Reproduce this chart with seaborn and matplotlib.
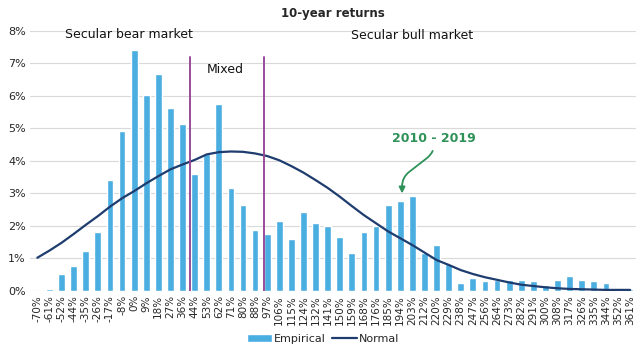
import numpy as np
import pandas as pd
import seaborn as sns
import matplotlib.pyplot as plt

# 10-year return buckets (x axis categories)
buckets = ["-70%", "-61%", "-52%", "-44%", "-35%", "-26%", "-17%", "-8%", "0%", "9%",
           "18%", "27%", "36%", "44%", "53%", "62%", "71%", "80%", "88%", "97%",
           "106%", "115%", "124%", "132%", "141%", "150%", "159%", "168%", "176%", "185%",
           "194%", "203%", "212%", "220%", "229%", "238%", "247%", "256%", "264%", "273%",
           "282%", "291%", "300%", "308%", "317%", "326%", "335%", "344%", "352%", "361%"]

# empirical frequency (%)
empirical = [0.0, 0.07, 0.52, 0.77, 1.24, 1.80, 3.40, 4.91, 7.42, 6.04,
             6.69, 5.62, 5.15, 3.60, 4.21, 5.74, 3.16, 2.64, 1.86, 1.74,
             2.14, 1.61, 2.44, 2.08, 2.01, 1.67, 1.18, 1.80, 2.01, 2.64,
             2.76, 2.92, 1.16, 1.42, 0.82, 0.25, 0.41, 0.31, 0.35, 0.33,
             0.34, 0.31, 0.18, 0.34, 0.46, 0.34, 0.31, 0.25, 0.0, 0.06]

# fitted normal curve (%)
normal = [1.02, 1.24, 1.48, 1.75, 2.03, 2.30, 2.59, 2.85, 3.07, 3.31,
          3.53, 3.74, 3.89, 4.03, 4.20, 4.27, 4.29, 4.28, 4.23, 4.15,
          4.02, 3.84, 3.64, 3.41, 3.17, 2.90, 2.61, 2.33, 2.08, 1.83,
          1.62, 1.41, 1.18, 0.95, 0.80, 0.64, 0.52, 0.42, 0.34, 0.26,
          0.19, 0.15, 0.11, 0.08, 0.06, 0.05, 0.04, 0.03, 0.03, 0.03]

# regime boundaries (category positions) and labels
boundaries = [12.6, 18.7]
regions = [("Secular bear market", 7.6, 7.88), ("Mixed", 15.5, 6.8), ("Secular bull market", 31.0, 7.85)]

df = pd.DataFrame({"bucket": buckets, "Empirical": empirical, "Normal": normal})
df["pos"] = np.arange(len(df))

sns.set_style("white")
plt.rcParams["font.family"] = ["DejaVu Sans"]

fig = plt.figure(figsize=(6.4, 3.6), dpi=100)
ax = fig.add_axes([0.047, 0.192, 0.947, 0.722])

sns.barplot(data=df, x="pos", y="Empirical", color="#4BAEE1", width=0.56,
            saturation=1, label="Empirical", ax=ax)
sns.lineplot(data=df, x="pos", y="Normal", color="#1E3C6E", linewidth=1.6,
             label="Normal", ax=ax)

# purple regime lines
for b in boundaries:
    ax.plot([b, b], [-0.05, 7.2], color="#9A4B98", linewidth=1.4)

for text, x, y in regions:
    ax.text(x, y, text, fontsize=9, ha="center", va="center", color="#111111")

# highlight of the last decade
ax.annotate("2010 - 2019", xy=(30.15, 3.0), xytext=(32.8, 4.69),
            fontsize=9, fontweight="bold", color="#2E9158", ha="center", va="center",
            arrowprops=dict(arrowstyle="-|>", color="#2E9158", lw=1.3, shrinkA=2, shrinkB=0,
                            connectionstyle="arc,angleA=-90,angleB=90,armA=14,armB=16,rad=9"))

ax.set_xlim(-0.6, 49.5)
ax.set_ylim(0, 8)
ax.set_yticks(range(0, 9))
ax.set_yticklabels([f"{v}%" for v in range(0, 9)], fontsize=8)
ax.set_xticks(df["pos"])
ax.set_xticklabels(buckets, rotation=90, fontsize=7.5)
ax.tick_params(axis="both", length=0, pad=3)
ax.set_xlabel("")
ax.set_ylabel("")
ax.grid(axis="y", color="#D9D9D9", linewidth=0.8)
ax.set_axisbelow(True)
sns.despine(ax=ax, left=True, bottom=True)

ax.set_title("10-year returns", fontsize=8.5, fontweight="bold", pad=10, x=0.5)

# legend below the axis: Empirical first, then Normal
handles, labels = ax.get_legend_handles_labels()
order = [labels.index("Empirical"), labels.index("Normal")]
ax.get_legend().remove()
fig.legend([handles[i] for i in order], [labels[i] for i in order], loc="center",
           bbox_to_anchor=(0.505, 0.058), ncol=2, frameon=False, fontsize=8,
           handlelength=2.2, columnspacing=0.6, handletextpad=0.2)

plt.savefig("out.png", dpi=100)
